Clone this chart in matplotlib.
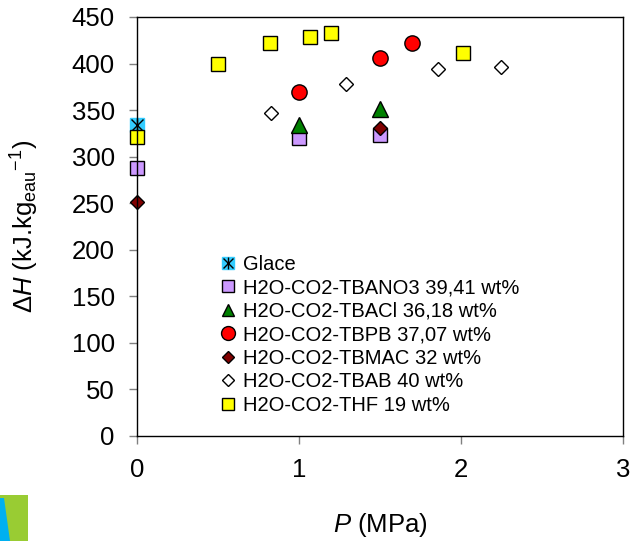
import matplotlib
matplotlib.use('Agg')
import matplotlib.pyplot as plt
from matplotlib.patches import Rectangle, Polygon
from matplotlib.legend_handler import HandlerTuple
from matplotlib.lines import Line2D

plt.rcParams['font.family'] = ['Liberation Sans', 'DejaVu Sans']
plt.rcParams['mathtext.fontset'] = 'custom'
plt.rcParams['mathtext.rm'] = 'Liberation Sans'
plt.rcParams['mathtext.it'] = 'Liberation Sans:italic'

# enthalpie de dissociation (kJ/kg eau) en fonction de la pression (MPa)
glace_p = [0.0]
glace_h = [334]
tbano3_p = [0.0, 1.0, 1.5]
tbano3_h = [288, 320, 323]
tbacl_p = [1.0, 1.5]
tbacl_h = [334, 351]
tbpb_p = [1.0, 1.5, 1.7]
tbpb_h = [369, 406, 422]
tbmac_p = [0.0, 1.5]
tbmac_h = [251, 331]
tbab_p = [0.83, 1.29, 1.86, 2.25]
tbab_h = [347, 378, 394, 396]
thf_p = [0.0, 0.5, 0.82, 1.07, 1.2, 2.01]
thf_h = [321, 400, 422, 428, 433, 411]

fig = plt.figure(figsize=(6.31, 5.41), dpi=100)
ax = fig.add_axes([0.2171, 0.1941, 0.7702, 0.7745])

kw = dict(ls='none', clip_on=False)
# Glace : carré cyan + astérisque
g1, = ax.plot(glace_p, glace_h, 's', ms=10, mfc='#33CCFF', mec='#33CCFF', **kw)
g2, = ax.plot(glace_p, glace_h, 'x', ms=8, mec='black', mew=1.0, **kw)
g3, = ax.plot(glace_p, glace_h, '|', ms=10, mec='black', mew=1.0, **kw)

h1, = ax.plot(tbano3_p, tbano3_h, 's', ms=10, mfc='#CC99FF', mec='black', mew=1, **kw)
h2, = ax.plot(tbacl_p, tbacl_h, '^', ms=11, mfc='#008000', mec='black', mew=1, **kw)
h3, = ax.plot(tbpb_p, tbpb_h, 'o', ms=11, mfc='#FF0000', mec='black', mew=1, **kw)
h4, = ax.plot(tbmac_p, tbmac_h, 'D', ms=7.5, mfc='#800000', mec='black', mew=1, **kw)
h5, = ax.plot(tbab_p, tbab_h, 'D', ms=7.5, mfc='white', mec='black', mew=1, **kw)
h6, = ax.plot(thf_p, thf_h, 's', ms=9.5, mfc='#FFFF00', mec='black', mew=1, **kw)

ax.set_xlim(0, 3)
ax.set_ylim(0, 450)
ax.set_xticks([0, 1, 2, 3])
ax.set_yticks(range(0, 451, 50))
ax.tick_params(direction='out', length=6, width=1, color='#808080', labelsize=18.5)
ax.tick_params(axis='y', pad=10)
ax.tick_params(axis='x', pad=10)
for s in ax.spines.values():
    s.set_linewidth(1.0)
    s.set_color('black')

ax.set_xlabel(r'$\mathit{P}$ (MPa)', fontsize=18.5, labelpad=21)
ax.set_ylabel(r'$\Delta\mathit{H}$ (kJ.kg$_{\mathrm{eau}}$$^{\mathrm{-1}}$)', fontsize=18.5, labelpad=22)

labels = ['Glace', 'H2O-CO2-TBANO3 39,41 wt%', 'H2O-CO2-TBACl 36,18 wt%',
          'H2O-CO2-TBPB 37,07 wt%', 'H2O-CO2-TBMAC 32 wt%',
          'H2O-CO2-TBAB 40 wt%', 'H2O-CO2-THF 19 wt%']
leg_glace = (Line2D([], [], marker='s', ms=9, mfc='#33CCFF', mec='#33CCFF', ls='none'),
             Line2D([], [], marker='x', ms=7, mec='black', mew=1, ls='none'),
             Line2D([], [], marker='|', ms=9, mec='black', mew=1, ls='none'))
leg_handles = [leg_glace,
               Line2D([], [], marker='s', ms=9, mfc='#CC99FF', mec='black', ls='none'),
               Line2D([], [], marker='^', ms=9, mfc='#008000', mec='black', ls='none'),
               Line2D([], [], marker='o', ms=10, mfc='#FF0000', mec='black', ls='none'),
               Line2D([], [], marker='D', ms=6, mfc='#800000', mec='black', ls='none'),
               Line2D([], [], marker='D', ms=6, mfc='white', mec='black', ls='none'),
               Line2D([], [], marker='s', ms=9, mfc='#FFFF00', mec='black', ls='none')]
ax.legend(leg_handles, labels, handler_map={tuple: HandlerTuple(ndivide=1)},
          loc='upper left', bbox_to_anchor=(220 / 631, 1 - 255 / 541),
          bbox_transform=fig.transFigure, frameon=False, fontsize=14.5,
          handlelength=0.8, handletextpad=0.35, labelspacing=0.22,
          borderpad=0, borderaxespad=0)

# logo en bas à gauche
fig.patches.append(Rectangle((0, 0), 28 / 631, 46 / 541, transform=fig.transFigure,
                             facecolor='#99CC33', edgecolor='none'))
fig.patches.append(Polygon([(0, 0), (10 / 631, 0), (4 / 631, 43 / 541), (0, 43 / 541)],
                           closed=True, transform=fig.transFigure,
                           facecolor='#00B0F0', edgecolor='none'))

fig.savefig('out.png', dpi=100)
